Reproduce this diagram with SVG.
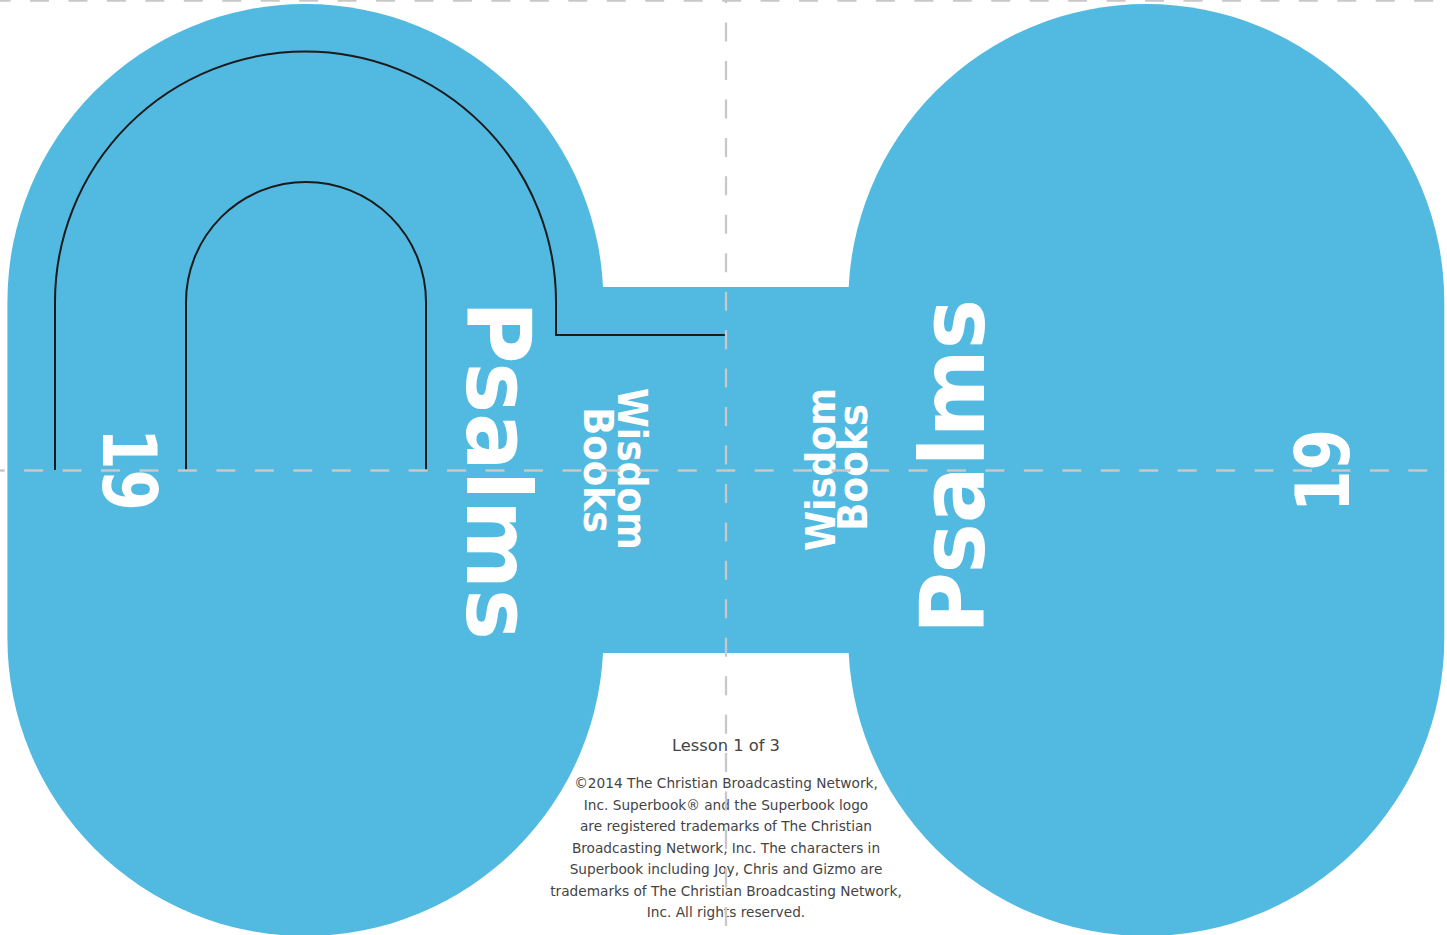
<svg xmlns="http://www.w3.org/2000/svg" width="1447" height="935" viewBox="0 0 1447 935">
<style>
.blue{fill:#52b9e0}
.cut{fill:none;stroke:#1a1a1a;stroke-width:2}
.fold{fill:none;stroke:#c8c8c8;stroke-width:2.3;stroke-dasharray:19 19.45}
.big{font-family:"DejaVu Sans","Liberation Sans",sans-serif;font-weight:bold;fill:#ffffff}
.small{font-family:"DejaVu Sans","Liberation Sans",sans-serif;fill:#444444;text-anchor:middle}
</style>
<rect width="1447" height="935" fill="#ffffff"/>
<g id="left-panel">
<rect class="blue" x="7.4" y="4" width="596" height="932" rx="298" ry="298"/>
</g>
<g id="right-panel">
<rect class="blue" x="848.3" y="4" width="596" height="932" rx="298" ry="298"/>
</g>
<g id="spine">
<rect class="blue" x="598" y="287" width="256" height="366"/>
</g>
<g id="cut-lines">
<path class="cut" d="M55,470 V302 A250.5,250.5 0 0 1 556,302 V335 H726"/>
<path class="cut" d="M186,470 V302 A120,120 0 0 1 426,302 V470"/>
</g>
<g id="left-labels">
<text class="big" font-size="89" text-anchor="middle" textLength="339" lengthAdjust="spacingAndGlyphs" transform="translate(467,470.5) rotate(90)">Psalms</text>
<text class="big" font-size="40" text-anchor="middle" textLength="162" lengthAdjust="spacingAndGlyphs" transform="translate(618,469) rotate(90)">Wisdom</text>
<text class="big" font-size="40" text-anchor="middle" textLength="126" lengthAdjust="spacingAndGlyphs" transform="translate(584,470) rotate(90)">Books</text>
<text class="big" font-size="74" text-anchor="middle" textLength="83" lengthAdjust="spacingAndGlyphs" transform="translate(103,469.5) rotate(90)">19</text>
</g>
<g id="right-labels">
<text class="big" font-size="89" text-anchor="middle" textLength="335" lengthAdjust="spacingAndGlyphs" transform="translate(984,466.5) rotate(-90)">Psalms</text>
<text class="big" font-size="40" text-anchor="middle" textLength="163" lengthAdjust="spacingAndGlyphs" transform="translate(835,469.5) rotate(-90)">Wisdom</text>
<text class="big" font-size="40" text-anchor="middle" textLength="127" lengthAdjust="spacingAndGlyphs" transform="translate(867,467.5) rotate(-90)">Books</text>
<text class="big" font-size="74" text-anchor="middle" textLength="83" lengthAdjust="spacingAndGlyphs" transform="translate(1349,470.5) rotate(-90)">19</text>
</g>
<g id="credits">
<text class="small" font-size="16.3" x="726" y="751">Lesson 1 of 3</text>
<text class="small" font-size="13.7" x="726" y="788">©2014 The Christian Broadcasting Network,</text>
<text class="small" font-size="13.7" x="726" y="809.5">Inc. Superbook® and the Superbook logo</text>
<text class="small" font-size="13.7" x="726" y="831">are registered trademarks of The Christian</text>
<text class="small" font-size="13.7" x="726" y="852.5">Broadcasting Network, Inc. The characters in</text>
<text class="small" font-size="13.7" x="726" y="874">Superbook including Joy, Chris and Gizmo are</text>
<text class="small" font-size="13.7" x="726" y="895.5">trademarks of The Christian Broadcasting Network,</text>
<text class="small" font-size="13.7" x="726" y="917">Inc. All rights reserved.</text>
</g>
<g id="fold-lines">
<line class="fold" x1="0" y1="470.5" x2="1447" y2="470.5" stroke-dashoffset="14.3"/>
<line class="fold" x1="0" y1="0.5" x2="1447" y2="0.5" stroke-dashoffset="8.45"/>
<line class="fold" x1="726" y1="0" x2="726" y2="935" stroke-dashoffset="15.9"/>
</g>
</svg>
